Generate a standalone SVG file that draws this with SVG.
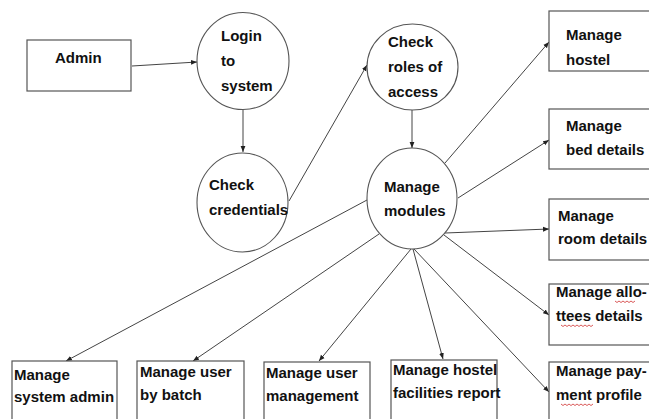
<svg xmlns="http://www.w3.org/2000/svg" width="649" height="419" viewBox="0 0 649 419">
<style>
.box{fill:#fff;stroke:#555;stroke-width:1.2}
.proc{fill:#fff;stroke:#555;stroke-width:1.1}
.t{font-family:"Liberation Sans",Arial,sans-serif;font-size:15px;font-weight:bold;fill:#111}
.c{stroke:#444;stroke-width:1;fill:none;marker-end:url(#ah)}
.sq{stroke:#d03030;stroke-width:0.8;fill:none}
</style>
<defs>
<marker id="ah" viewBox="0 0 10 10" refX="10" refY="5" markerWidth="6" markerHeight="6" markerUnits="userSpaceOnUse" orient="auto">
<path d="M0,1 L10,5 L0,9 z" fill="#222"/>
</marker>
</defs>
<rect width="649" height="419" fill="#fff"/>
<g id="connectors">
<line class="c" x1="132" y1="66" x2="197" y2="62"/>
<line class="c" x1="243" y1="110" x2="243" y2="152"/>
<line class="c" x1="289" y1="201" x2="367" y2="65"/>
<line class="c" x1="412" y1="110" x2="412" y2="148"/>
<line class="c" x1="445" y1="163" x2="549" y2="42"/>
<line class="c" x1="458" y1="198" x2="549" y2="140"/>
<line class="c" x1="445" y1="233" x2="549" y2="229"/>
<line class="c" x1="444" y1="235" x2="549" y2="315"/>
<line class="c" x1="414" y1="249" x2="549" y2="392"/>
<line class="c" x1="413" y1="249" x2="443" y2="359"/>
<line class="c" x1="411" y1="249" x2="319" y2="361"/>
<line class="c" x1="379" y1="234" x2="193" y2="361"/>
<line class="c" x1="367" y1="200" x2="66" y2="361"/>
</g>
<g id="admin">
<rect class="box" x="27" y="40" width="104" height="51"/>
<text class="t" x="55" y="63">Admin</text>
</g>
<g id="login">
<ellipse class="proc" cx="243" cy="61" rx="46" ry="48.5"/>
<text class="t" x="221" y="41">Login</text>
<text class="t" x="221" y="66">to</text>
<text class="t" x="221" y="91">system</text>
</g>
<g id="check-credentials">
<ellipse class="proc" cx="242.5" cy="202.5" rx="45.5" ry="49.5"/>
<text class="t" x="209" y="190">Check</text>
<text class="t" x="209" y="215">credentials</text>
</g>
<g id="check-roles">
<ellipse class="proc" cx="412.5" cy="67" rx="45.5" ry="43"/>
<text class="t" x="388" y="47">Check</text>
<text class="t" x="388" y="72">roles of</text>
<text class="t" x="388" y="97">access</text>
</g>
<g id="manage-modules">
<ellipse class="proc" cx="412" cy="198.5" rx="45" ry="50.5"/>
<text class="t" x="384" y="192">Manage</text>
<text class="t" x="384" y="216">modules</text>
</g>
<g id="manage-hostel">
<rect class="box" x="549" y="11" width="110" height="60"/>
<text class="t" x="566" y="40">Manage</text>
<text class="t" x="566" y="65">hostel</text>
</g>
<g id="manage-bed">
<rect class="box" x="549" y="109" width="110" height="60"/>
<text class="t" x="566" y="131">Manage</text>
<text class="t" x="566" y="155">bed details</text>
</g>
<g id="manage-room">
<rect class="box" x="549" y="199" width="110" height="61"/>
<text class="t" x="558" y="221">Manage</text>
<text class="t" x="558" y="244">room details</text>
</g>
<g id="manage-allottees">
<rect class="box" x="549" y="284" width="110" height="61"/>
<text class="t" x="556" y="297">Manage allo-</text>
<text class="t" x="556" y="321">ttees details</text>
<path class="sq" d="M615,301 l2,1.5 l2,-1.5 l2,1.5 l2,-1.5 l2,1.5 l2,-1.5 l2,1.5 l2,-1.5 l2,1.5 l2,-1.5"/>
<path class="sq" d="M561,325 l2,1.5 l2,-1.5 l2,1.5 l2,-1.5 l2,1.5 l2,-1.5 l2,1.5 l2,-1.5 l2,1.5 l2,-1.5 l2,1.5 l2,-1.5 l2,1.5 l2,-1.5 l2,1.5 l2,-1.5"/>
</g>
<g id="manage-payment">
<rect class="box" x="549" y="362" width="110" height="80"/>
<text class="t" x="556" y="376">Manage pay-</text>
<text class="t" x="556" y="400">ment profile</text>
<path class="sq" d="M561,404 l2,1.5 l2,-1.5 l2,1.5 l2,-1.5 l2,1.5 l2,-1.5 l2,1.5 l2,-1.5 l2,1.5 l2,-1.5 l2,1.5 l2,-1.5 l2,1.5 l2,-1.5 l2,1.5 l2,-1.5"/>
</g>
<g id="manage-system-admin">
<rect class="box" x="12" y="361" width="105" height="80"/>
<text class="t" x="14" y="380">Manage</text>
<text class="t" x="14" y="402">system admin</text>
</g>
<g id="manage-user-batch">
<rect class="box" x="137" y="361" width="107" height="80"/>
<text class="t" x="140" y="377">Manage user</text>
<text class="t" x="140" y="400">by batch</text>
</g>
<g id="manage-user-management">
<rect class="box" x="264" y="362" width="106" height="80"/>
<text class="t" x="266" y="378">Manage user</text>
<text class="t" x="266" y="401">management</text>
</g>
<g id="manage-hostel-facilities">
<rect class="box" x="391" y="360" width="106" height="80"/>
<text class="t" x="393" y="375">Manage hostel</text>
<text class="t" x="393" y="398">facilities report</text>
</g>
</svg>
